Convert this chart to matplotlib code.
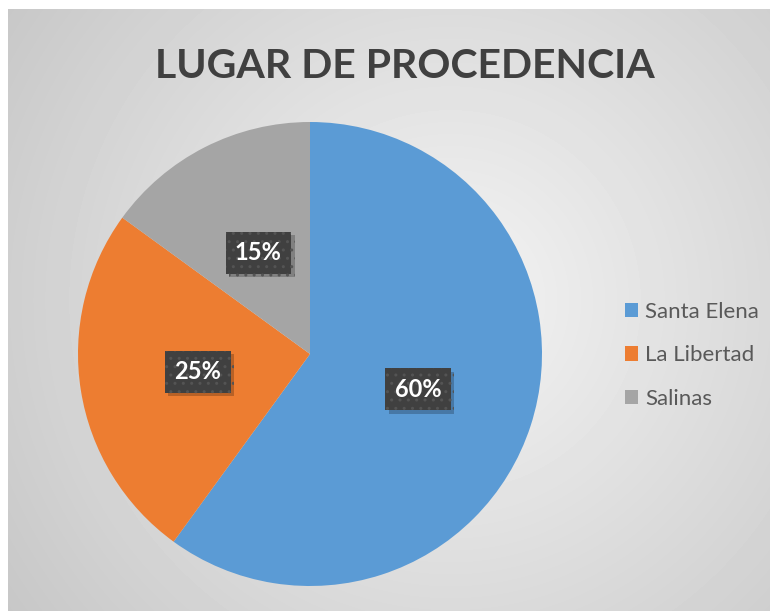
import numpy as np
import matplotlib.pyplot as plt
from matplotlib import patheffects
from matplotlib.patches import Patch

categories = ["Santa Elena", "La Libertad", "Salinas"]
shares = [60, 25, 15]
colors = ["#5B9BD5", "#ED7D31", "#A5A5A5"]
title = "LUGAR DE PROCEDENCIA"

plt.rcParams["font.family"] = ["Lato", "DejaVu Sans"]

W, H = 770, 611
fig = plt.figure(figsize=(W / 100, H / 100), dpi=100)

# radial grey gradient behind the chart area
bg = fig.add_axes([8 / W, 0, (W - 8) / W, (H - 9) / H])
yy, xx = np.mgrid[0:H - 9, 0:W - 8]
d = np.hypot(xx - 442, yy - 291)
shade = np.clip(244 - 0.0835 * d, 190, 250) / 255
bg.imshow(shade, cmap="gray", vmin=0, vmax=1, aspect="auto")
bg.axis("off")

ax = fig.add_axes([78 / W, (H - 586) / H, 464 / W, 464 / H])
wedges, _, autotexts = ax.pie(
    shares, colors=colors, startangle=90, counterclock=False,
    autopct=lambda p: f"{p:.0f}%", pctdistance=0.49,
    wedgeprops=dict(linewidth=0),
)
ax.set_xlim(-1, 1)
ax.set_ylim(-1, 1)

for t in autotexts:
    t.set_color("white")
    t.set_fontweight("bold")
    t.set_fontsize(17)
    t.set_bbox(dict(boxstyle="square,pad=0.4", fc="#404040", ec="#545454", lw=0, hatch=".."))
    t.get_bbox_patch().set_path_effects([
        patheffects.SimplePatchShadow(offset=(2.5, -2.5), shadow_rgbFace="black", alpha=0.22),
        patheffects.Normal(),
    ])

fig.text(405 / W, 1 - 67 / H, title, ha="center", va="center",
         fontsize=29.5, fontweight="bold", color="#404040")

handles = [Patch(facecolor=c, edgecolor="none") for c in colors]
fig.legend(handles, categories, loc="upper left", bbox_to_anchor=(605 / W, 1 - 282 / H),
           frameon=False, fontsize=16, labelcolor="#595959", handlelength=0.6,
           handleheight=0.6, handletextpad=0.3, labelspacing=1.05)

fig.savefig("out.png", dpi=100)
